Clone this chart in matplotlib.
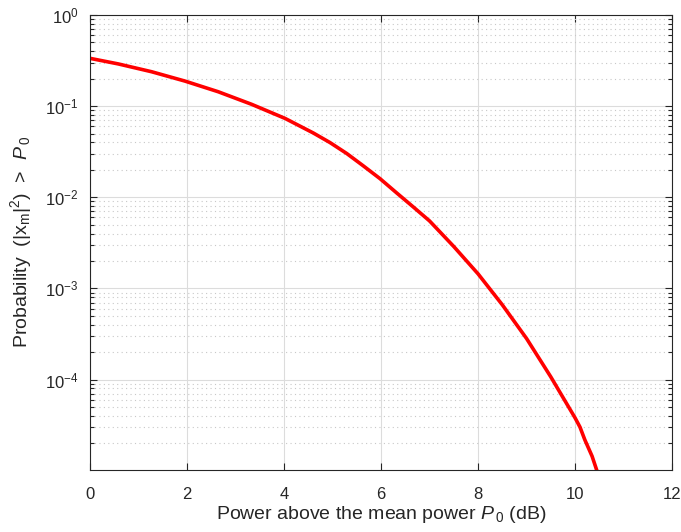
import numpy as np
import matplotlib
matplotlib.use('Agg')
import matplotlib.pyplot as plt
from matplotlib.ticker import LogLocator, NullFormatter, FuncFormatter

plt.rcParams['font.family'] = ['Liberation Sans', 'DejaVu Sans']
plt.rcParams['mathtext.fontset'] = 'custom'
plt.rcParams['mathtext.rm'] = 'Liberation Sans'
plt.rcParams['mathtext.it'] = 'Liberation Sans:italic'

# power above mean (dB) and CCDF
power_db = [0.0, 0.584, 1.272, 1.959, 2.645, 3.334, 4.021, 4.604, 4.948,
            5.293, 5.635, 5.979, 6.324, 6.666, 7.0, 7.5, 8.0, 8.5, 9.0, 9.5,
            9.8, 10.0, 10.1, 10.2, 10.35, 10.45, 10.5]
prob = [0.334, 0.290, 0.238, 0.188, 0.1436, 0.1045, 0.0733, 0.0507, 0.0398,
        0.0302, 0.0221, 0.0160, 0.01114, 7.82e-3, 5.50e-3, 2.88e-3, 1.445e-3,
        6.61e-4, 2.82e-4, 1.07e-4, 5.75e-5, 3.80e-5, 3.02e-5, 2.19e-5,
        1.445e-5, 1.0e-5, 8.7e-6]

fig = plt.figure(figsize=(6.81, 5.32), dpi=100)
ax = fig.add_axes([0.132, 0.1165, 0.855, 0.8555])

ax.semilogy(power_db, prob, color='#ff0000', linewidth=2.6)

ax.set_xlim(0, 12)
ax.set_ylim(1.02e-5, 1)
ax.set_xticks(np.arange(0, 13, 2))
ax.yaxis.set_major_locator(LogLocator(base=10, numticks=10))
ax.yaxis.set_major_formatter(FuncFormatter(
    lambda v, p: r'10$^{%d}$' % round(np.log10(v))))
ax.yaxis.set_minor_locator(LogLocator(base=10, subs=np.arange(2, 10), numticks=20))
ax.yaxis.set_minor_formatter(NullFormatter())

ax.grid(True, which='major', color='#dcdcdc', linewidth=0.8)
ax.grid(True, which='minor', axis='y', color='#c8c8c8', linestyle=(0, (1, 3)), linewidth=0.8)
ax.set_axisbelow(True)

ax.tick_params(which='both', direction='in', top=True, right=True,
               labelsize=12, colors='#262626')
ax.tick_params(axis='x', pad=12)
ax.tick_params(axis='y', pad=8)
ax.tick_params(which='major', length=5, width=0.8)
ax.tick_params(which='minor', length=3, width=0.8)
for s in ax.spines.values():
    s.set_color('#262626')
    s.set_linewidth(0.8)

ax.set_xlabel(r'Power above the mean power $P_{\,0}$ (dB)', fontsize=14, color='#262626',
              labelpad=2)
ax.set_ylabel(r'Probability  (|x$_\mathrm{m}$|$^{2}$)  >  $P_{\,0}$', fontsize=14,
              color='#262626', labelpad=8)

fig.savefig('out.png', dpi=100)
